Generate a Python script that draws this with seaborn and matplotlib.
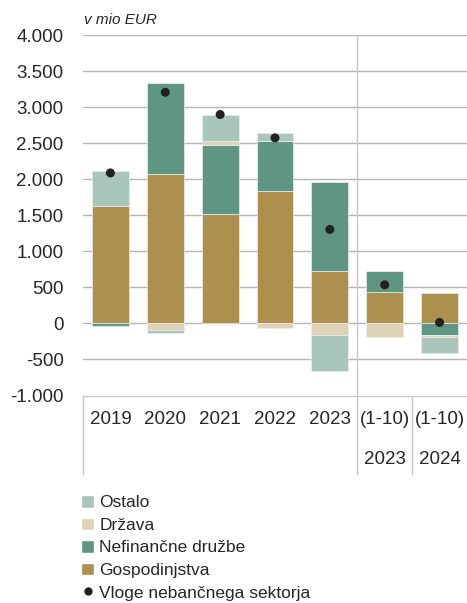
import numpy as np
import seaborn as sns
import matplotlib
matplotlib.use('Agg')
from matplotlib import pyplot as plt
from matplotlib.patches import Patch
from matplotlib.lines import Line2D
from matplotlib import transforms

# podatki v mio EUR
kategorije = ['2019', '2020', '2021', '2022', '2023', '(1-10)\n2023', '(1-10)\n2024']
gospodinjstva = [1626, 2069, 1511, 1830, 725, 438, 416]
nefinancne = [-37, 1271, 960, 697, 1233, 291, -158]
drzava = [0, -93, 60, -60, -158, -194, -27]
ostalo = [489, -37, 366, 107, -507, 0, -227]
vloge = [2087, 3206, 2897, 2573, 1303, 535, 14]

barve = {
    'Gospodinjstva': '#ad8f4e',
    'Nefinančne družbe': '#5f9683',
    'Država': '#dfd3b7',
    'Ostalo': '#a8c6bb',
}

sns.set_style('white')
plt.rcParams['font.family'] = ['Liberation Sans', 'DejaVu Sans']

fig = plt.figure(figsize=(4.67, 6.03), dpi=100)
ax = fig.add_axes([83 / 467, (603 - 395.5) / 603, 1 - 83 / 467, (395.5 - 35) / 603])

x = np.arange(len(kategorije))
serije = [('Gospodinjstva', gospodinjstva), ('Nefinančne družbe', nefinancne),
          ('Država', drzava), ('Ostalo', ostalo)]
pos = np.zeros(len(x))
neg = np.zeros(len(x))
for ime, vals in serije:
    v = np.array(vals, dtype=float)
    spodaj = np.where(v >= 0, pos, neg)
    ax.bar(x, v, bottom=spodaj, width=0.67, color=barve[ime],
           edgecolor='#eeeeee', linewidth=0.5, zorder=2)
    pos = pos + np.where(v >= 0, v, 0)
    neg = neg + np.where(v < 0, v, 0)

sns.scatterplot(x=x, y=vloge, ax=ax, color='#222222', s=42, edgecolor='none',
                zorder=3, legend=False)

ax.set_xlim(-0.5, len(x) - 0.5)
ax.set_ylim(-1000, 4000)
ax.set_yticks(np.arange(-1000, 4001, 500))
ax.set_yticklabels([f'{int(t):,}'.replace(',', '.') for t in np.arange(-1000, 4001, 500)],
                   fontsize=13.5)
ax.tick_params(axis='y', length=0, pad=14)
ax.set_xticks([])
for y in np.arange(-500, 4001, 500):
    ax.axhline(y, color='#b5b5b5', lw=1, zorder=1)
for s in ['top', 'right', 'left']:
    ax.spines[s].set_visible(False)
ax.spines['bottom'].set_color('#c8c8c8')
ax.spines['bottom'].set_linewidth(1)

# tabela kategorij pod grafom
trans = transforms.blended_transform_factory(ax.transData, ax.transAxes)
spodnja = -(474 - 395.5) / (395.5 - 35)
for xv, top in [(-0.5, 0), (4.5, 1), (5.5, 0)]:
    ax.add_line(Line2D([xv, xv], [spodnja, top], transform=trans, color='#c8c8c8',
                       lw=1, clip_on=False, zorder=1))
vr1 = -(420 - 395.5) / (395.5 - 35)
vr2 = -(460 - 395.5) / (395.5 - 35)
for xi, k in zip(x, kategorije):
    deli = k.split('\n')
    ax.text(xi, vr1, deli[0], transform=trans, ha='center', va='center', fontsize=13.5)
    if len(deli) > 1:
        ax.text(xi, vr2, deli[1], transform=trans, ha='center', va='center', fontsize=13.5)

fig.text(84 / 467, 1 - 20 / 603, 'v mio EUR', fontsize=11, style='italic', va='center')

rocaji = [Patch(facecolor=barve['Ostalo']), Patch(facecolor=barve['Država']),
          Patch(facecolor=barve['Nefinančne družbe']), Patch(facecolor=barve['Gospodinjstva']),
          Line2D([], [], marker='o', color='#222222', ls='none', markersize=5)]
oznake = ['Ostalo', 'Država', 'Nefinančne družbe', 'Gospodinjstva', 'Vloge nebančnega sektorja']
fig.legend(rocaji, oznake, loc='upper left', bbox_to_anchor=(81 / 467, 1 - 495 / 603),
           frameon=False, fontsize=12.5, handlelength=0.75, handleheight=0.75,
           handletextpad=0.3, labelspacing=0.41, borderpad=0, borderaxespad=0)

fig.savefig('out.png', dpi=100)
